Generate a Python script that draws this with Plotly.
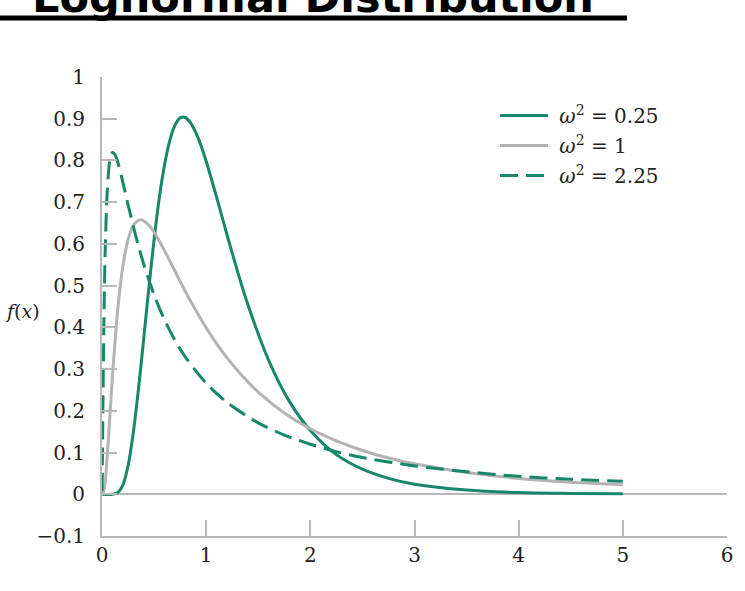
import plotly.graph_objects as go

# ---- data ----
x_w025 = [0, 0.1, 0.15, 0.2, 0.25, 0.3, 0.35, 0.4, 0.45, 0.5, 0.55, 0.6, 0.65, 0.7, 0.75,
          0.8, 0.85, 0.9, 0.95, 1.0, 1.1, 1.2, 1.3, 1.4, 1.6, 1.8, 2.0, 2.25, 2.5, 2.75,
          3.0, 3.5, 4.0, 4.5, 5.0]
y_w025 = [0, 0.000, 0.004, 0.022, 0.068, 0.147, 0.252, 0.372, 0.495, 0.610, 0.710, 0.789,
          0.847, 0.884, 0.902, 0.903, 0.890, 0.867, 0.836, 0.798, 0.712, 0.622, 0.535,
          0.455, 0.321, 0.222, 0.153, 0.095, 0.060, 0.038, 0.024, 0.010, 0.004, 0.002, 0.001]

x_w1 = [0, 0.02, 0.05, 0.1, 0.15, 0.2, 0.25, 0.3, 0.37, 0.45, 0.5, 0.6, 0.7, 0.8, 0.9, 1.0,
        1.1, 1.2, 1.35, 1.5, 1.75, 2.0, 2.25, 2.5, 2.75, 3.0, 3.5, 4.0, 4.5, 5.0]
y_w1 = [0, 0.010, 0.090, 0.282, 0.440, 0.546, 0.610, 0.644, 0.658, 0.645, 0.628, 0.584,
        0.535, 0.486, 0.441, 0.399, 0.361, 0.327, 0.283, 0.245, 0.195, 0.157, 0.128, 0.105,
        0.087, 0.073, 0.052, 0.038, 0.029, 0.023]

x_w225 = [0.001, 0.005, 0.01, 0.02, 0.03, 0.05, 0.075, 0.1, 0.125, 0.15, 0.2, 0.25, 0.3,
          0.35, 0.4, 0.5, 0.6, 0.7, 0.8, 1.0, 1.2, 1.5, 1.75, 2.0, 2.25, 2.5, 3.0, 3.5, 4.0,
          4.5, 5.0]
y_w225 = [0.007, 0.104, 0.239, 0.444, 0.577, 0.724, 0.799, 0.819, 0.814, 0.797, 0.748,
          0.694, 0.643, 0.595, 0.552, 0.478, 0.418, 0.369, 0.329, 0.266, 0.220, 0.171,
          0.142, 0.120, 0.102, 0.088, 0.068, 0.054, 0.043, 0.036, 0.031]

names = ["\u00a0<i>ω</i><sup>2</sup> = 0.25", "\u00a0<i>ω</i><sup>2</sup> = 1",
         "\u00a0<i>ω</i><sup>2</sup> = 2.25"]
x_ticks = [0, 1, 2, 3, 4, 5, 6]
y_ticks = [-0.1, 0, 0.1, 0.2, 0.3, 0.4, 0.5, 0.6, 0.7, 0.8, 0.9, 1]
title_text = "Lognormal Distribution"

GREEN = "#16876a"
GRAY = "#b3b3b3"
AX = "#b8b8b8"
TXT = "#222"
TICKFONT = "DejaVu Serif"

fig = go.Figure()
fig.add_trace(go.Scatter(x=x_w025, y=y_w025, mode="lines", name=names[0], legendgroup="a",
                         line=dict(color=GREEN, width=3, shape="spline", smoothing=0.8)))
fig.add_trace(go.Scatter(x=x_w1, y=y_w1, mode="lines", name=names[1], legendgroup="b",
                         line=dict(color=GRAY, width=3, shape="spline", smoothing=0.8)))
fig.add_trace(go.Scatter(x=x_w225, y=y_w225, mode="lines", name=names[2], legendgroup="c",
                         line=dict(color=GREEN, width=3, dash="18px,8px", shape="spline",
                                   smoothing=0.8)))

L, R, T, B = 102, 18, 77, 55
W, H = 745, 591
pw, ph = W - L - R, H - T - B

def px_x(p):
    return (p - L) / pw

def px_y(p):
    return (H - B - p) / ph

fig.update_layout(
    width=W, height=H,
    margin=dict(l=L, r=R, t=T, b=B, pad=0),
    paper_bgcolor="white", plot_bgcolor="white",
    font=dict(family=TICKFONT, size=20, color=TXT),
    showlegend=True,
    legend=dict(x=px_x(495), y=px_y(96), xanchor="left", yanchor="top",
                bgcolor="rgba(0,0,0,0)", itemwidth=48, traceorder="grouped",
                tracegroupgap=1, font=dict(family=TICKFONT, size=20, color=TXT)),
    xaxis=dict(range=[0, 6], tickvals=x_ticks, ticks="inside", ticklen=16, tickwidth=2,
               tickcolor=AX, showline=True, linecolor=AX, linewidth=2, showgrid=False,
               zeroline=False, tickfont=dict(size=20, family=TICKFONT, color=TXT)),
    yaxis=dict(range=[-0.1, 1], tickvals=y_ticks, ticks="inside", ticklen=15, tickwidth=2,
               tickcolor=AX, showline=True, linecolor=AX, linewidth=2, showgrid=False,
               zeroline=True, zerolinecolor=AX, zerolinewidth=2,
               tickfont=dict(size=20, family=TICKFONT, color=TXT), ticklabelstandoff=11),
    annotations=[
        dict(text="<i>f</i>(<i>x</i>)", x=px_x(22), y=px_y(311), xref="paper", yref="paper",
             xanchor="center", yanchor="middle",
             showarrow=False, font=dict(family="DejaVu Serif", size=19, color=TXT)),
        dict(text="<i>x</i>", x=3, y=px_y(597), xref="x", yref="paper", yanchor="middle",
             showarrow=False, font=dict(family="DejaVu Serif", size=18, color=TXT)),
        dict(text="<b>" + title_text + "</b>", x=px_x(313), y=px_y(-3), xref="paper",
             yref="paper", showarrow=False, xanchor="center", yanchor="middle",
             font=dict(family="DejaVu Sans", size=43, color="black")),
    ],
    shapes=[
        dict(type="line", xref="paper", yref="paper", x0=px_x(0), x1=px_x(627),
             y0=px_y(18), y1=px_y(18), line=dict(color="black", width=5)),
    ],
)

fig.write_html("out.html")
